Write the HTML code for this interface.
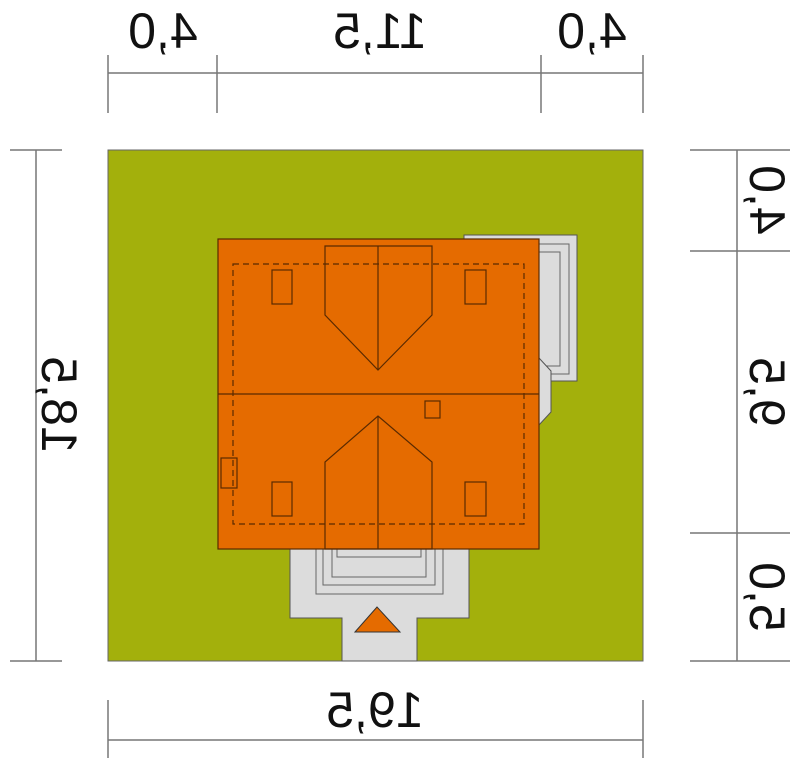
<!DOCTYPE html>
<html><head><style>html,body{margin:0;padding:0;background:#fff}svg{display:block}text{font-family:"Liberation Sans",Arial,sans-serif}</style></head>
<body>
<svg width="800" height="766" viewBox="0 0 800 766" xmlns="http://www.w3.org/2000/svg">
<g stroke="#777" stroke-width="1.5" fill="none">
<line x1="108" y1="73" x2="643" y2="73"/>
<line x1="108" y1="55" x2="108" y2="113"/><line x1="217" y1="55" x2="217" y2="113"/><line x1="541" y1="55" x2="541" y2="113"/><line x1="643" y1="55" x2="643" y2="113"/>
<line x1="36" y1="150" x2="36" y2="661"/>
<line x1="10" y1="150" x2="62" y2="150"/><line x1="10" y1="661" x2="62" y2="661"/>
<line x1="737" y1="150" x2="737" y2="661"/>
<line x1="690" y1="150" x2="790" y2="150"/><line x1="690" y1="251" x2="790" y2="251"/><line x1="690" y1="533" x2="790" y2="533"/><line x1="690" y1="661" x2="790" y2="661"/>
<line x1="108" y1="740" x2="643" y2="740"/>
<line x1="108" y1="700" x2="108" y2="758"/><line x1="643" y1="700" x2="643" y2="758"/>
</g>
<rect x="108" y="150" width="535" height="511" fill="#a3b00c" stroke="#666" stroke-width="1"/>
<rect x="464" y="235" width="113" height="146" fill="#dcdcdc" stroke="#555" stroke-width="1"/>
<polyline points="539,244 569,244 569,374 539,374" fill="none" stroke="#666" stroke-width="1"/>
<polyline points="539,252 560,252 560,366 539,366" fill="none" stroke="#666" stroke-width="1"/>
<polygon points="539,358 551,371 551,412 539,425" fill="#dcdcdc" stroke="#555" stroke-width="1"/>
<polygon points="290,548 469,548 469,618 417,618 417,661 342,661 342,618 290,618" fill="#dcdcdc" stroke="#555" stroke-width="1"/>
<rect x="316" y="540" width="127" height="54" fill="none" stroke="#666" stroke-width="1"/>
<rect x="323" y="540" width="112" height="45" fill="none" stroke="#666" stroke-width="1"/>
<rect x="332" y="540" width="94" height="37" fill="none" stroke="#666" stroke-width="1"/>
<rect x="337" y="541" width="84" height="16" fill="#dcdcdc" stroke="#666" stroke-width="1"/>
<polygon points="355,632 377,607 400,632" fill="#e56b00" stroke="#333" stroke-width="1"/>
<rect x="218" y="239" width="321" height="310" fill="#e56b00" stroke="#5a2a00" stroke-width="1.2"/>
<line x1="218" y1="394" x2="539" y2="394" stroke="#5a2a00" stroke-width="1.2"/>
<rect x="233" y="264" width="291" height="260" fill="none" stroke="#5a2a00" stroke-width="1.2" stroke-dasharray="6,4"/>
<g fill="none" stroke="#5a2a00" stroke-width="1.2">
<polygon points="325,246 432,246 432,315 378,370 325,315"/>
<line x1="378" y1="246" x2="378" y2="370"/>
<polygon points="325,549 325,462 378,416 432,462 432,549"/>
<line x1="378" y1="416" x2="378" y2="549"/>
<rect x="272" y="270" width="20" height="34"/><rect x="465" y="270" width="21" height="34"/>
<rect x="272" y="482" width="20" height="34"/><rect x="465" y="482" width="21" height="34"/>
<rect x="425" y="401" width="15" height="17"/>
<rect x="221" y="458" width="16" height="30"/>
</g>
<g font-size="50" fill="#111" text-anchor="middle">
<text transform="translate(163,48) scale(-1,1)">4,0</text>
<text transform="translate(380,48) scale(-1,1)">11,5</text>
<text transform="translate(592,48) scale(-1,1)">4,0</text>
<text transform="translate(375,727) scale(-1,1)">19,5</text>
<text transform="translate(60,405) rotate(90) scale(-1,1)" dy="18">18,5</text>
<text transform="translate(768,200) rotate(90) scale(-1,1)" dy="18">4,0</text>
<text transform="translate(768,392) rotate(90) scale(-1,1)" dy="18">9,5</text>
<text transform="translate(768,597) rotate(90) scale(-1,1)" dy="18">5,0</text>
</g>
</svg>
</body></html>
